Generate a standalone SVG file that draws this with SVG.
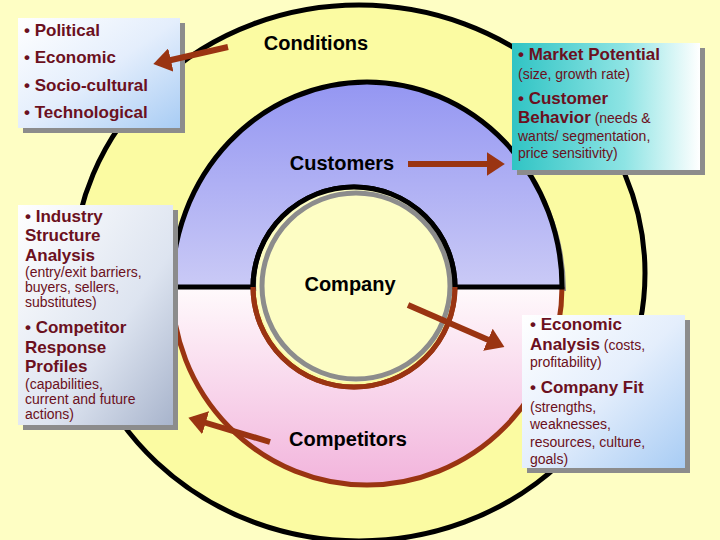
<svg xmlns="http://www.w3.org/2000/svg" width="720" height="540" viewBox="0 0 720 540">
<defs>
<linearGradient id="gBlue" x1="0" y1="0" x2="0" y2="1"><stop offset="0" stop-color="#9496f2"/><stop offset="1" stop-color="#cacaf6"/></linearGradient>
<linearGradient id="gPink" x1="0" y1="0" x2="0" y2="1"><stop offset="0" stop-color="#fffafc"/><stop offset="1" stop-color="#f2b4dc"/></linearGradient>
<linearGradient id="gBox" x1="0" y1="0" x2="1" y2="1"><stop offset="0" stop-color="#ffffff"/><stop offset="0.5" stop-color="#e4eefc"/><stop offset="1" stop-color="#a8ccf4"/></linearGradient>
<linearGradient id="gBox3" x1="0" y1="0" x2="1" y2="1"><stop offset="0" stop-color="#ffffff"/><stop offset="0.6" stop-color="#dde4f0"/><stop offset="1" stop-color="#a8b4cc"/></linearGradient>
<linearGradient id="gTeal" x1="0" y1="0" x2="1" y2="0"><stop offset="0" stop-color="#30c4c4"/><stop offset="0.6" stop-color="#8ee4e4"/><stop offset="1" stop-color="#ffffff"/></linearGradient>
<marker id="ah" markerWidth="4" markerHeight="4" refX="2.2" refY="2" orient="auto" markerUnits="strokeWidth"><path d="M0,0 L3,2 L0,4 Z" fill="#9a3412"/></marker>
<style>
.lbl{font-family:"Liberation Sans",Arial,sans-serif;font-weight:bold;font-size:20px;fill:#000}
.b{font-family:"Liberation Sans",Arial,sans-serif;font-weight:bold;font-size:17px;fill:#6b1020}
.s{font-family:"Liberation Sans",Arial,sans-serif;font-size:14px;fill:#6b1020;font-weight:normal}
.arr{stroke:#9a3412;stroke-width:6;fill:none;marker-end:url(#ah)}
.sh{fill:#8c8c8c}
</style>
</defs>
<rect width="720" height="540" fill="#fefec4"/>
<g id="rings">
<ellipse cx="359" cy="273" rx="286" ry="268" fill="#fbfba2" stroke="#000" stroke-width="5"/>
<path d="M176,291 A195,205 0 0 1 566,291 L459,291 A101,100 0 0 0 257,291 Z" fill="#8c8c8c"/>
<path d="M172,287 A195,198 0 0 0 562,287 L455,287 A101,100 0 0 1 253,287 Z" fill="url(#gPink)"/>
<path d="M172,287 A195,198 0 0 0 562,287" fill="none" stroke="#9a3412" stroke-width="5"/>
<path d="M455,287 A101,100 0 0 1 253,287" fill="none" stroke="#9a3412" stroke-width="5"/>
<path d="M172,287 A195,205 0 0 1 562,287 L455,287 A101,100 0 0 0 253,287 Z" fill="url(#gBlue)" stroke="#000" stroke-width="5"/>
<ellipse cx="354" cy="285" rx="98" ry="97" fill="#fdfdc4"/>
<ellipse cx="356" cy="286" rx="94" ry="93" fill="none" stroke="#8c8c8c" stroke-width="5"/>
<path d="M253,287 A101,100 0 0 1 455,287" fill="none" stroke="#000" stroke-width="5"/>
<path d="M455,287 A101,100 0 0 1 253,287" fill="none" stroke="#9a3412" stroke-width="5"/>
</g>
<g id="box-conditions">
<rect x="23" y="23" width="162" height="110" class="sh"/>
<rect x="18" y="18" width="162" height="110" fill="url(#gBox)"/>
<text class="b" x="24" y="36">• Political</text>
<text class="b" x="24" y="63">• Economic</text>
<text class="b" x="24" y="91">• Socio-cultural</text>
<text class="b" x="24" y="118">• Technological</text>
</g>
<g id="box-market">
<rect x="517" y="48" width="188" height="127" class="sh"/>
<rect x="512" y="43" width="188" height="127" fill="url(#gTeal)"/>
<text class="b" x="518" y="60">• Market Potential</text>
<text class="s" x="518" y="79">(size, growth rate)</text>
<text class="b" x="518" y="104">• Customer</text>
<text x="518" y="123"><tspan class="b">Behavior</tspan><tspan class="s"> (needs &amp;</tspan></text>
<text class="s" x="518" y="141">wants/ segmentation,</text>
<text class="s" x="518" y="158">price sensitivity)</text>
</g>
<g id="box-industry">
<rect x="23" y="210" width="155" height="220" class="sh"/>
<rect x="18" y="205" width="155" height="220" fill="url(#gBox3)"/>
<text class="b" x="25" y="222">• Industry</text>
<text class="b" x="25" y="241">Structure</text>
<text class="b" x="25" y="261">Analysis</text>
<text class="s" x="25" y="277">(entry/exit barriers,</text>
<text class="s" x="25" y="292">buyers, sellers,</text>
<text class="s" x="25" y="307">substitutes)</text>
<text class="b" x="25" y="333">• Competitor</text>
<text class="b" x="25" y="353">Response</text>
<text class="b" x="25" y="372">Profiles</text>
<text class="s" x="25" y="389">(capabilities,</text>
<text class="s" x="25" y="404">current and future</text>
<text class="s" x="25" y="419">actions)</text>
</g>
<g id="box-economic">
<rect x="527" y="320" width="163" height="153" class="sh"/>
<rect x="522" y="315" width="163" height="153" fill="url(#gBox)"/>
<text class="b" x="530" y="330">• Economic</text>
<text x="530" y="350"><tspan class="b">Analysis</tspan><tspan class="s"> (costs,</tspan></text>
<text class="s" x="530" y="367">profitability)</text>
<text class="b" x="530" y="393">• Company Fit</text>
<text class="s" x="530" y="412">(strengths,</text>
<text class="s" x="530" y="429">weaknesses,</text>
<text class="s" x="530" y="447">resources, culture,</text>
<text class="s" x="530" y="464">goals)</text>
</g>
<g id="labels">
<text class="lbl" x="316" y="50" text-anchor="middle">Conditions</text>
<text class="lbl" x="342" y="170" text-anchor="middle">Customers</text>
<text class="lbl" x="350" y="291" text-anchor="middle">Company</text>
<text class="lbl" x="348" y="446" text-anchor="middle">Competitors</text>
</g>
<g id="connectors">
<path class="arr" d="M228,47 L158,63"/>
<path class="arr" d="M408,164 L500,164"/>
<path class="arr" d="M408,305 L500,345"/>
<path class="arr" d="M270,442 L193,419"/>
</g>
</svg>
